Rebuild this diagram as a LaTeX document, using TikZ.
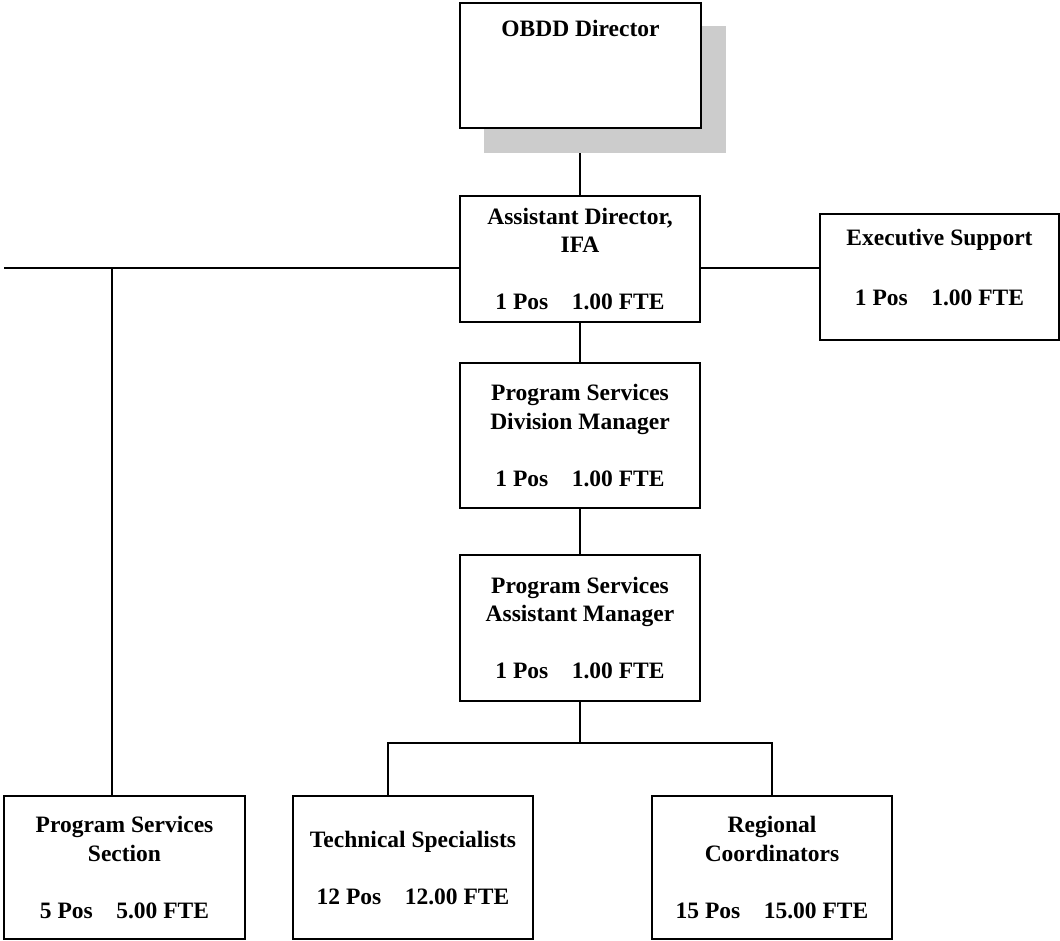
\documentclass[tikz,border=0pt]{standalone}
\usepackage{fontspec}
\setmainfont{Liberation Serif}
\begin{document}
\begin{tikzpicture}[x=1pt,y=-1pt,
  box/.style={draw, line width=2pt, fill=white, minimum width=240pt, inner sep=0pt},
  txt/.style={align=center, inner sep=0pt, font=\bfseries\fontsize{23.5}{28.5}\selectfont},
  conn/.style={line width=2pt},
  shadowbox/.style={fill=black!20, draw=none, minimum width=242pt, minimum height=127pt, inner sep=0pt}]
\useasboundingbox (0,0) rectangle (1060,941);
% shadow and top box
\node[shadowbox] (shadow) at (605,89.5) {};
\node[box, minimum width=241pt, minimum height=125pt] (obdd) at (580.5,65.5) {};
\node[txt, anchor=base] (obddt) at (580.5,37) {OBDD Director};
% main chain
\node[box, minimum height=126pt] (ad) at (580,259) {};
\node[txt] (adt) at (580,259) {Assistant Director,\\IFA\\[28.5pt]1 Pos\hspace{1em}1.00 FTE};
\node[box, minimum width=239pt, minimum height=126pt] (exec) at (939.5,277) {};
\node[txt] (exect) at (939.5,267.5) {Executive Support\\[32pt]1 Pos\hspace{1em}1.00 FTE};
\node[box, minimum height=145pt] (div) at (580,435.5) {};
\node[txt] (divt) at (580,435.5) {Program Services\\Division Manager\\[28.5pt]1 Pos\hspace{1em}1.00 FTE};
\node[box, minimum height=146pt] (am) at (580,628) {};
\node[txt] (amt) at (580,628) {Program Services\\Assistant Manager\\[28.5pt]1 Pos\hspace{1em}1.00 FTE};
% bottom row
\node[box, minimum width=241pt, minimum height=143pt] (pss) at (124.5,867.5) {};
\node[txt] (psst) at (124.5,867.5) {Program Services\\Section\\[28.5pt]5 Pos\hspace{1em}5.00 FTE};
\node[box, minimum height=143pt] (ts) at (413,867.5) {};
\node[txt] (tst) at (413,868.5) {Technical Specialists\\[28.5pt]12 Pos\hspace{1em}12.00 FTE};
\node[box, minimum height=143pt] (rc) at (772,867.5) {};
\node[txt] (rct) at (772,867.5) {Regional\\Coordinators\\[28.5pt]15 Pos\hspace{1em}15.00 FTE};
% coordinates
\coordinate (lend) at (4,268);
\coordinate (vtop) at (112,268);
\coordinate (bus) at (580,743);
\coordinate (tsc) at (388,743);
% connectors
\draw[conn] (ad.north |- shadow.south) -- (ad.north);
\draw[conn] (lend) -- (lend -| ad.west);
\draw[conn] (lend -| ad.east) -- (lend -| exec.west);
\draw[conn] (vtop) -- (vtop |- pss.north);
\draw[conn] (ad.south) -- (div.north);
\draw[conn] (div.south) -- (am.north);
\draw[conn] (am.south) -- (bus);
\draw[conn] (tsc |- ts.north) -- (tsc) -- (bus -| rc.north) -- (rc.north);
\end{tikzpicture}
\end{document}
